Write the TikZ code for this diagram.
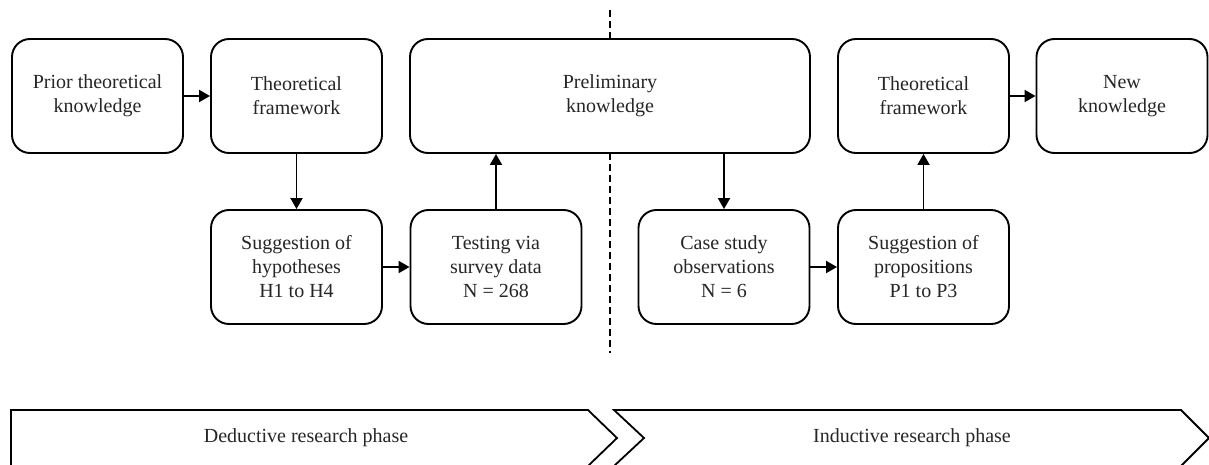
\documentclass[tikz,border=0pt]{standalone}
\usepackage{fontspec}
\setmainfont{Liberation Serif}
\usetikzlibrary{arrows.meta}
\tikzset{
  box/.style={draw, line width=1.9pt, rounded corners=18pt, fill=white,
    minimum width=171pt, minimum height=114pt, align=center, inner sep=2pt,
    text=black!85, font=\fontsize{20}{24}\selectfont},
  conn/.style={line width=1.9pt, -{Triangle[length=11pt,width=12pt]}},
  chev/.style={draw, line width=1.8pt, line join=miter},
  chevtext/.style={text=black!85, font=\fontsize{20}{24}\selectfont},
  divider/.style={line width=1.5pt, dash pattern=on 7pt off 4pt}
}
\begin{document}
\begin{tikzpicture}[x=1pt,y=-1pt]
\useasboundingbox (0,0) rectangle (1209,465);
% dashed divider (behind boxes)
\coordinate (dtop) at (610,10);
\coordinate (dbot) at (610,353);
\draw[divider] (dtop) -- (dbot);
% top row
\node[box] (b1) at (97.5,96) {Prior theoretical\\knowledge};
\node[box] (b2) at (296.5,96) {Theoretical\\framework};
\node[box, minimum width=400pt] (b3) at (610,96) {Preliminary\\knowledge};
\node[box] (b4) at (923.5,96) {Theoretical\\framework};
\node[box] (b5) at (1122,96) {New\\knowledge};
% bottom row
\node[box] (h) at (296.5,267) {Suggestion of\\hypotheses\\H1 to H4};
\node[box] (t) at (496,267) {Testing via\\survey data\\N = 268};
\node[box] (c) at (724,267) {Case study\\observations\\N = 6};
\node[box] (p) at (923.5,267) {Suggestion of\\propositions\\P1 to P3};
% connectors
\draw[conn] (b1.east) -- (b2.west);
\draw[conn] (b2.south) -- (h.north);
\draw[conn] (h.east) -- (t.west);
\draw[conn] (t.north) -- (t.north |- b3.south);
\draw[conn] (c.north |- b3.south) -- (c.north);
\draw[conn] (c.east) -- (p.west);
\draw[conn] (p.north) -- (b4.south);
\draw[conn] (b4.east) -- (b5.west);
% phase chevrons
\draw[chev] (11,410) -- (588,410) -- (617,438) -- (588,466) -- (11,466) -- cycle;
\draw[chev] (614,410) -- (1181,410) -- (1209,438) -- (1181,466) -- (614,466) -- (644,438) -- cycle;
\node[chevtext] (ded) at (306,438) {Deductive research phase};
\node[chevtext] (ind) at (912,438) {Inductive research phase};
\end{tikzpicture}
\end{document}
